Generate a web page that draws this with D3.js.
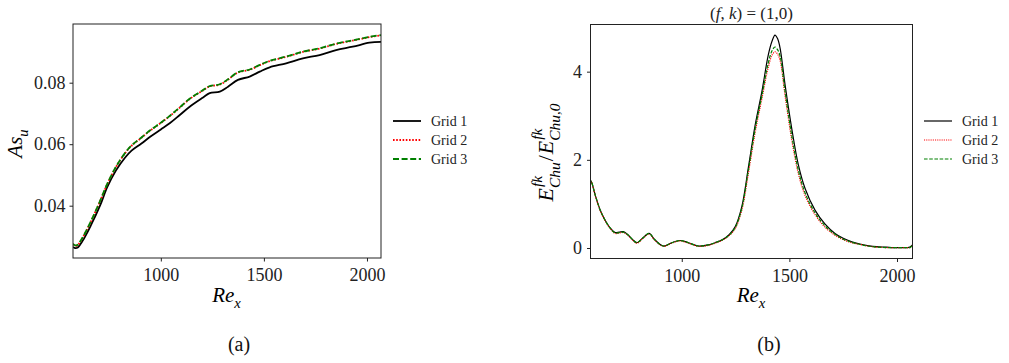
<!DOCTYPE html>
<html>
<head>
<meta charset="utf-8">
<script src="https://cdn.jsdelivr.net/npm/d3@7"></script>
<style>
  body { margin: 0; background: #fff; }
  svg { display: block; }
  svg text { font-family: "Liberation Serif", "DejaVu Serif", serif; }
</style>
</head>
<body>
<svg id="chart" width="1009" height="363"></svg>
<script>
// ---- data: panel (a) ----
const reA = [574, 585, 595, 620, 660, 705, 740, 782, 826, 858, 906, 950, 1000, 1043, 1092, 1140, 1205, 1237, 1286, 1326, 1374, 1431, 1480, 1528, 1608, 1689, 1770, 1850, 1931, 2012, 2068];
const asGrid1 = [0.0266, 0.0262, 0.0263, 0.0285, 0.0335, 0.0400, 0.0460, 0.0514, 0.0556, 0.0579, 0.0602, 0.0625, 0.0648, 0.0668, 0.0695, 0.0722, 0.0752, 0.0766, 0.0771, 0.0787, 0.0809, 0.0820, 0.0836, 0.0850, 0.0863, 0.0879, 0.0890, 0.0906, 0.0917, 0.0930, 0.0933];
const asGrid2 = [0.0275, 0.0270, 0.0271, 0.0295, 0.0347, 0.0414, 0.0470, 0.0525, 0.0570, 0.0595, 0.0621, 0.0645, 0.0669, 0.0691, 0.0719, 0.0747, 0.0775, 0.0788, 0.0794, 0.0810, 0.0833, 0.0842, 0.0857, 0.0870, 0.0884, 0.0900, 0.0911, 0.0926, 0.0937, 0.0948, 0.0954];
const asGrid3 = [0.0276, 0.0271, 0.0272, 0.0296, 0.0348, 0.0415, 0.0471, 0.0526, 0.0571, 0.0596, 0.0622, 0.0646, 0.0670, 0.0692, 0.0720, 0.0748, 0.0776, 0.0789, 0.0795, 0.0811, 0.0834, 0.0843, 0.0858, 0.0871, 0.0885, 0.0901, 0.0912, 0.0927, 0.0938, 0.0949, 0.0955];

// ---- data: panel (b) ----
const reB = [576, 579, 598, 621, 644, 668, 691, 710, 729, 752, 772, 791, 822, 848, 876, 915, 954, 992, 1031, 1077, 1124, 1155, 1190, 1220, 1248, 1279, 1309, 1341, 1372, 1402, 1420, 1433, 1445, 1457, 1480, 1511, 1542, 1573, 1619, 1666, 1712, 1750, 1790, 1828, 1870, 1905, 1950, 1983, 2020, 2045, 2060, 2072];
const eGrid1 = [1.45, 1.52, 1.20, 0.86, 0.63, 0.45, 0.35, 0.36, 0.37, 0.29, 0.19, 0.12, 0.24, 0.33, 0.18, 0.045, 0.12, 0.17, 0.12, 0.045, 0.07, 0.12, 0.19, 0.30, 0.48, 0.94, 1.81, 2.79, 3.54, 4.38, 4.70, 4.83, 4.75, 4.53, 3.70, 2.71, 1.88, 1.35, 0.86, 0.54, 0.33, 0.22, 0.14, 0.09, 0.05, 0.03, 0.02, 0.01, 0.01, 0.01, 0.02, 0.07];
const eGrid2 = [1.44, 1.51, 1.19, 0.85, 0.62, 0.44, 0.33, 0.34, 0.35, 0.28, 0.18, 0.11, 0.23, 0.32, 0.17, 0.04, 0.11, 0.16, 0.11, 0.04, 0.06, 0.11, 0.18, 0.28, 0.44, 0.86, 1.68, 2.62, 3.38, 4.10, 4.38, 4.45, 4.40, 4.25, 3.45, 2.45, 1.68, 1.19, 0.76, 0.47, 0.29, 0.19, 0.12, 0.08, 0.04, 0.02, 0.01, 0.01, 0.01, 0.01, 0.01, 0.05];
const eGrid3 = [1.45, 1.52, 1.20, 0.86, 0.63, 0.45, 0.34, 0.35, 0.36, 0.29, 0.19, 0.12, 0.24, 0.33, 0.18, 0.045, 0.12, 0.17, 0.12, 0.045, 0.07, 0.12, 0.19, 0.29, 0.46, 0.90, 1.75, 2.70, 3.45, 4.20, 4.48, 4.56, 4.50, 4.35, 3.55, 2.55, 1.76, 1.25, 0.80, 0.50, 0.31, 0.20, 0.13, 0.08, 0.04, 0.02, 0.01, 0.01, 0.01, 0.01, 0.01, 0.06];

const xTicks = [1000, 1500, 2000];
const yTicksA = [0.04, 0.06, 0.08];
const yTicksB = [0, 2, 4];
const legendLabels = ["Grid 1", "Grid 2", "Grid 3"];

const svg = d3.select("#chart");

// draws a sequence of math pieces; {t, i} plain/italic text, {sup, sub} stacked scripts
function mathLabel(g, pieces, size) {
  const small = size * 0.7;
  let x = 0;
  pieces.forEach(p => {
    if (p.t !== undefined) {
      const t = g.append("text").attr("x", x).attr("y", 0)
        .attr("font-size", size).attr("font-style", p.i ? "italic" : "normal").text(p.t);
      x += t.node().getComputedTextLength() + (p.gap || 0);
    } else {
      let w = 0;
      if (p.sup) {
        const s = g.append("text").attr("x", x + 1).attr("y", -size * 0.5)
          .attr("font-size", small).attr("font-style", "italic").text(p.sup);
        w = Math.max(w, s.node().getComputedTextLength() + 1);
      }
      if (p.sub) {
        const s = g.append("text").attr("x", x).attr("y", size * 0.3)
          .attr("font-size", small).attr("font-style", "italic").text(p.sub);
        w = Math.max(w, s.node().getComputedTextLength());
      }
      x += w + 1;
    }
  });
  return x;
}

function panel(cfg) {
  const x = d3.scaleLinear().domain(cfg.xDomain).range([cfg.x0, cfg.x1]);
  const y = d3.scaleLinear().domain(cfg.yDomain).range([cfg.y1, cfg.y0]);
  const g = svg.append("g");

  g.append("clipPath").attr("id", cfg.id + "-clip")
    .append("rect").attr("x", cfg.x0).attr("y", cfg.y0)
    .attr("width", cfg.x1 - cfg.x0).attr("height", cfg.y1 - cfg.y0);

  const line = d3.line().x(d => x(d[0])).y(d => y(d[1])).curve(d3.curveCatmullRom.alpha(0.5));
  const series = [
    { vals: cfg.s1, color: "#000", dash: null },
    { vals: cfg.s2, color: "#ff0000", dash: cfg.dot },
    { vals: cfg.s3, color: "#008000", dash: cfg.dash }
  ];
  const lines = g.append("g").attr("clip-path", `url(#${cfg.id}-clip)`);
  series.forEach(s => {
    lines.append("path")
      .datum(cfg.re.map((r, i) => [r, s.vals[i]]))
      .attr("d", line).attr("fill", "none")
      .attr("stroke", s.color).attr("stroke-width", cfg.lw)
      .attr("stroke-dasharray", s.dash);
  });

  g.append("rect").attr("x", cfg.x0).attr("y", cfg.y0)
    .attr("width", cfg.x1 - cfg.x0).attr("height", cfg.y1 - cfg.y0)
    .attr("fill", "none").attr("stroke", "#222").attr("stroke-width", 1);

  const xAxis = g.append("g").attr("transform", `translate(0,${cfg.y1})`)
    .call(d3.axisBottom(x).tickValues(xTicks).tickFormat(d3.format("d"))
      .tickSize(3.5).tickSizeOuter(0).tickPadding(7));
  const yAxis = g.append("g").attr("transform", `translate(${cfg.x0},0)`)
    .call(d3.axisLeft(y).tickValues(cfg.yTicks).tickFormat(cfg.yFmt)
      .tickSize(3.5).tickSizeOuter(0).tickPadding(cfg.yPad));
  [xAxis, yAxis].forEach(a => {
    a.attr("font-family", null);
    a.select(".domain").remove();
    a.selectAll("line").attr("stroke", "#222");
    a.selectAll("text").attr("font-size", 18).attr("fill", "#222");
  });

  // x label Re_x
  const xl = g.append("g");
  const wx = mathLabel(xl, [{ t: "Re", i: true }, { sub: "x" }], 21);
  xl.attr("transform", `translate(${(cfg.x0 + cfg.x1) / 2 - wx / 2},302)`);

  // y label
  const yl = g.append("g");
  const wy = mathLabel(yl, cfg.yLabel, cfg.yLabelSize);
  yl.attr("transform", `translate(${cfg.yLabelX},${cfg.yLabelY}) rotate(-90) translate(${-wy / 2},0)`);

  // legend
  const leg = g.append("g");
  series.forEach((s, i) => {
    const ly = 121 + i * 19;
    leg.append("line").attr("x1", cfg.legX).attr("x2", cfg.legX + 28)
      .attr("y1", ly).attr("y2", ly)
      .attr("stroke", s.color).attr("stroke-width", cfg.lw).attr("stroke-dasharray", s.dash);
    leg.append("text").attr("x", cfg.legX + 38).attr("y", ly + 5)
      .attr("font-size", 14).attr("fill", "#222").text(legendLabels[i]);
  });

  // caption
  g.append("text").attr("x", cfg.capX).attr("y", 351).attr("text-anchor", "middle")
    .attr("font-size", 20).attr("fill", "#111").text(cfg.caption);
}

panel({
  id: "a", x0: 73, x1: 381, y0: 24, y1: 258,
  xDomain: [574, 2068], yDomain: [0.02299, 0.09909],
  re: reA, s1: asGrid1, s2: asGrid2, s3: asGrid3,
  lw: 1.8, dot: "1.6,1.6", dash: "6,2.6",
  yTicks: yTicksA, yFmt: d3.format(".2f"), yPad: 4,
  yLabel: [{ t: "As", i: true }, { sub: "u" }], yLabelSize: 21, yLabelX: 22, yLabelY: 143,
  legX: 393, capX: 239, caption: "(a)"
});

panel({
  id: "b", x0: 590.5, x1: 912.5, y0: 24.5, y1: 258.5,
  xDomain: [576, 2072], yDomain: [-0.238, 5.07],
  re: reB, s1: eGrid1, s2: eGrid2, s3: eGrid3,
  lw: 1.2, dot: "1.1,1.1", dash: "3.6,1.6",
  yTicks: yTicksB, yFmt: d3.format("d"), yPad: 5,
  yLabel: [{ t: "E", i: true }, { sup: "fk", sub: "Chu" }, { t: "/", gap: 1 }, { t: "E", i: true }, { sup: "fk", sub: "Chu,0" }],
  yLabelSize: 22, yLabelX: 553, yLabelY: 152,
  legX: 924, capX: 769, caption: "(b)"
});

// title of panel (b)
svg.append("text").attr("x", 751.5).attr("y", 19).attr("text-anchor", "middle")
  .attr("font-size", 17).attr("fill", "#222")
  .call(t => {
    t.append("tspan").text("(");
    t.append("tspan").attr("font-style", "italic").text("f");
    t.append("tspan").text(", ");
    t.append("tspan").attr("font-style", "italic").text("k");
    t.append("tspan").text(") = (1,0)");
  });
</script>
</body>
</html>
